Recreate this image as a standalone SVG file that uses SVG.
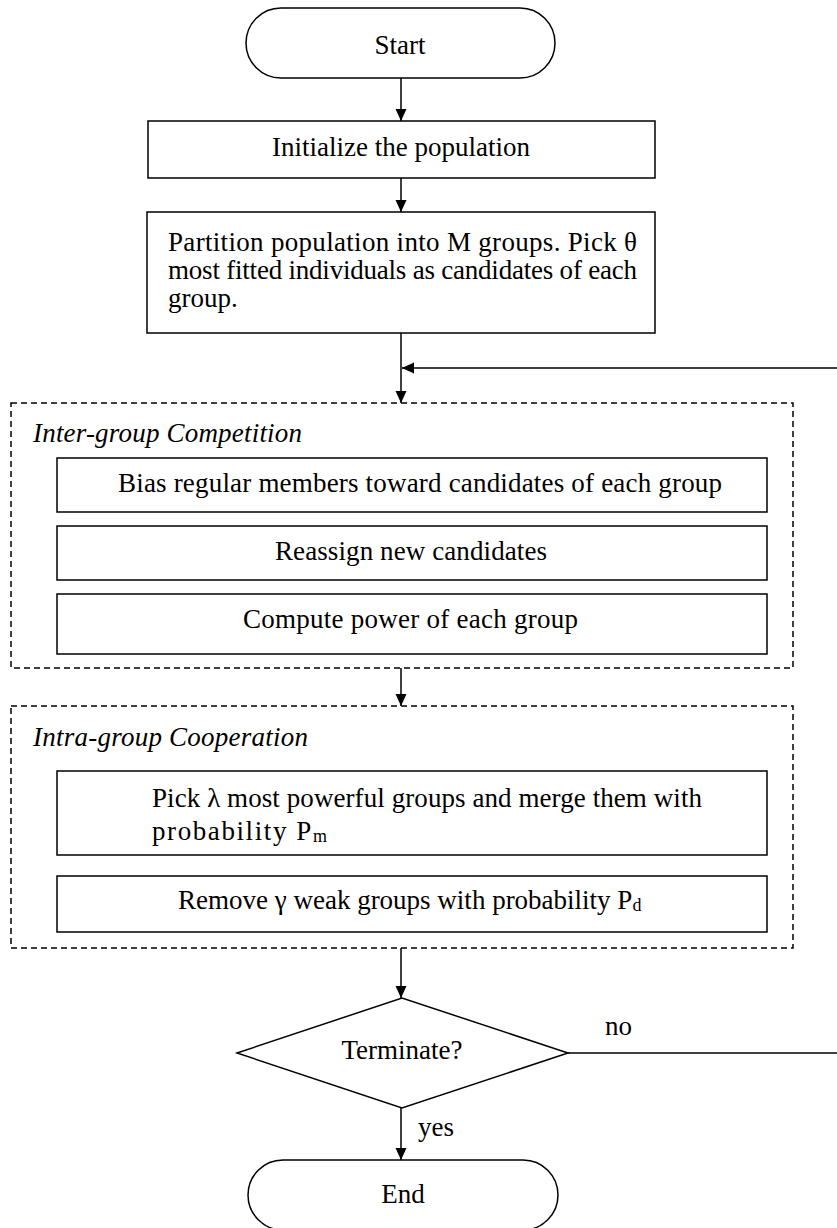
<svg xmlns="http://www.w3.org/2000/svg" width="837" height="1228" viewBox="0 0 837 1228">
<style>
.box{fill:#fff;stroke:#000;stroke-width:1.5}
.dash{fill:none;stroke:#000;stroke-width:1.5;stroke-dasharray:6 4}
.t{font-family:'Liberation Serif','Times New Roman','DejaVu Serif',serif;font-size:27px;fill:#000}
.c{text-anchor:middle}
.i{font-style:italic}
.ln{fill:none;stroke:#000;stroke-width:1.5}
.sub{font-size:18px}
</style>
<defs>
<marker id="ah" markerWidth="12" markerHeight="14" refX="12" refY="6.5" orient="auto" markerUnits="userSpaceOnUse">
<path d="M0,1 L12,6.5 L0,12 Z" fill="#000"/>
</marker>
</defs>
<rect width="837" height="1228" fill="#fff"/>
<g id="connectors">
<line class="ln" x1="401" y1="78" x2="401" y2="121" marker-end="url(#ah)"/>
<line class="ln" x1="401" y1="178" x2="401" y2="212" marker-end="url(#ah)"/>
<line class="ln" x1="401" y1="333" x2="401" y2="403" marker-end="url(#ah)"/>
<line class="ln" x1="837" y1="368" x2="402" y2="368" marker-end="url(#ah)"/>
<line class="ln" x1="401" y1="668" x2="401" y2="706" marker-end="url(#ah)"/>
<line class="ln" x1="401" y1="948" x2="401" y2="998" marker-end="url(#ah)"/>
<line class="ln" x1="568" y1="1053" x2="837" y2="1053"/>
<line class="ln" x1="401" y1="1108" x2="401" y2="1160" marker-end="url(#ah)"/>
<text class="t" x="605" y="1035">no</text>
<text class="t" x="418" y="1136">yes</text>
</g>
<g id="start">
<rect class="box" x="246" y="8" width="309" height="70" rx="35" ry="35"/>
<text class="t c" x="400" y="54">Start</text>
</g>
<g id="init">
<rect class="box" x="148" y="121" width="507" height="57"/>
<text class="t" x="272" y="156" textLength="258">Initialize the population</text>
</g>
<g id="partition">
<rect class="box" x="147" y="212" width="508" height="121"/>
<text class="t" x="168" y="251" textLength="469">Partition population into M groups. Pick θ</text>
<text class="t" x="168" y="279" textLength="469">most fitted individuals as candidates of each</text>
<text class="t" x="168" y="307">group.</text>
</g>
<g id="inter-group">
<rect class="dash" x="11" y="403" width="782" height="265"/>
<text class="t i" x="33" y="442" textLength="269">Inter-group Competition</text>
</g>
<g id="bias">
<rect class="box" x="57" y="458" width="710" height="54"/>
<text class="t" x="118" y="492" textLength="604">Bias regular members toward candidates of each group</text>
</g>
<g id="reassign">
<rect class="box" x="57" y="526" width="710" height="54"/>
<text class="t" x="275" y="560" textLength="272">Reassign new candidates</text>
</g>
<g id="compute">
<rect class="box" x="57" y="594" width="710" height="60"/>
<text class="t" x="243" y="628" textLength="335">Compute power of each group</text>
</g>
<g id="intra-group">
<rect class="dash" x="11" y="706" width="782" height="242"/>
<text class="t i" x="33" y="746" textLength="275">Intra-group Cooperation</text>
</g>
<g id="pick">
<rect class="box" x="57" y="771" width="710" height="84"/>
<text class="t" x="152" y="807" textLength="550">Pick λ most powerful groups and merge them with</text>
<text class="t" x="152" y="840" textLength="175">probability P<tspan class="sub" dy="2">m</tspan></text>
</g>
<g id="remove">
<rect class="box" x="57" y="876" width="710" height="56"/>
<text class="t" x="178" y="909">Remove γ weak groups with probability P<tspan class="sub" dy="2">d</tspan></text>
</g>
<g id="terminate">
<polygon class="box" points="237,1053 402,998 568,1053 402,1108"/>
<text class="t c" x="402" y="1059">Terminate?</text>
</g>
<g id="end">
<rect class="box" x="248" y="1160" width="310" height="70" rx="35" ry="35"/>
<text class="t c" x="403" y="1203">End</text>
</g>
</svg>
